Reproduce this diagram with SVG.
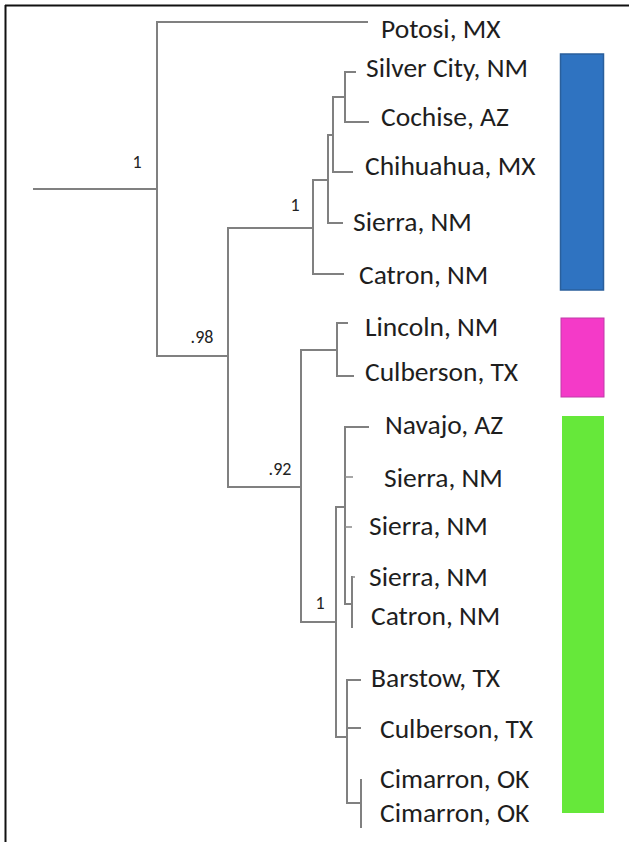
<svg xmlns="http://www.w3.org/2000/svg" width="629" height="842" viewBox="0 0 629 842">
<style>
.br{fill:none;stroke:#808080;stroke-width:2;stroke-linecap:square}
.tk{fill:none;stroke:#8a8a8a;stroke-width:1.5}
.lb{font-family:Carlito,Lato,"Liberation Sans",sans-serif;font-size:27.5px;fill:#1e1e1e}
.sp{font-family:Carlito,Lato,"Liberation Sans",sans-serif;font-size:18px;fill:#222}
</style>
<rect x="0" y="0" width="629" height="842" fill="#fff"/>
<g id="frame"><path d="M5,5.5 H629 M5.5,5 V842" stroke="#111" stroke-width="2" fill="none"/></g>
<g id="connectors">
<path class="br" d="M34,189 H157 M157,22 V356 M157,22 H367"/>
<path class="br" d="M157,356 H228 M228,228 V487"/>
<path class="br" d="M228,228 H313 M313,180 V274 M313,274 H343 M313,180 H328 M328,135 V223 M328,223 H342 M328,135 H333 M333,97 V172 M333,172 H352 M333,97 H345 M345,72 V122 M345,72 H355 M345,122 H368"/>
<path class="br" d="M228,487 H301 M301,350 V622 M301,350 H337 M337,323 V376 M337,323 H347 M337,376 H353"/>
<path class="br" d="M301,622 H336 M336,507 V737 M336,507 H345 M345,427 V604 M345,427 H368 M345,604 H352 M352,577 V627"/>
<path class="tk" d="M345,477 H353 M345,527 H352 M352,577 H355"/>
<path class="br" d="M336,737 H347 M347,680 V803 M347,680 H360 M347,728 H360 M347,803 H361 M361,780 V827"/>
</g>
<g id="supports">
<text class="sp" x="137" y="168" text-anchor="middle">1</text>
<text class="sp" x="295" y="211" text-anchor="middle">1</text>
<text class="sp" x="202" y="343" text-anchor="middle">.98</text>
<text class="sp" x="280" y="475" text-anchor="middle">.92</text>
<text class="sp" x="320" y="609" text-anchor="middle">1</text>
</g>
<g id="leaf-potosi"><text class="lb" x="381" y="38">Potosi, MX</text></g>
<g id="leaf-silvercity"><text class="lb" x="366" y="77">Silver City, NM</text></g>
<g id="leaf-cochise"><text class="lb" x="381" y="126">Cochise, AZ</text></g>
<g id="leaf-chihuahua"><text class="lb" x="365" y="175">Chihuahua, MX</text></g>
<g id="leaf-sierra1"><text class="lb" x="353" y="231">Sierra, NM</text></g>
<g id="leaf-catron1"><text class="lb" x="359" y="284">Catron, NM</text></g>
<g id="leaf-lincoln"><text class="lb" x="365" y="336">Lincoln, NM</text></g>
<g id="leaf-culberson1"><text class="lb" x="365" y="381">Culberson, TX</text></g>
<g id="leaf-navajo"><text class="lb" x="385" y="434">Navajo, AZ</text></g>
<g id="leaf-sierra2"><text class="lb" x="384" y="487">Sierra, NM</text></g>
<g id="leaf-sierra3"><text class="lb" x="369" y="535">Sierra, NM</text></g>
<g id="leaf-sierra4"><text class="lb" x="369" y="586">Sierra, NM</text></g>
<g id="leaf-catron2"><text class="lb" x="371" y="625">Catron, NM</text></g>
<g id="leaf-barstow"><text class="lb" x="371" y="687">Barstow, TX</text></g>
<g id="leaf-culberson2"><text class="lb" x="380" y="738">Culberson, TX</text></g>
<g id="leaf-cimarron1"><text class="lb" x="380" y="788">Cimarron, OK</text></g>
<g id="leaf-cimarron2"><text class="lb" x="380" y="822">Cimarron, OK</text></g>
<g id="bar-blue"><rect x="560.5" y="54" width="43" height="236" fill="#2f73c1" stroke="#2a5f9c" stroke-width="1.5"/></g>
<g id="bar-magenta"><rect x="561" y="318" width="43" height="79" fill="#f43ac8" stroke="#c03aa8" stroke-width="1"/></g>
<g id="bar-green"><rect x="562" y="416" width="42" height="397" fill="#66e83a"/></g>
</svg>
